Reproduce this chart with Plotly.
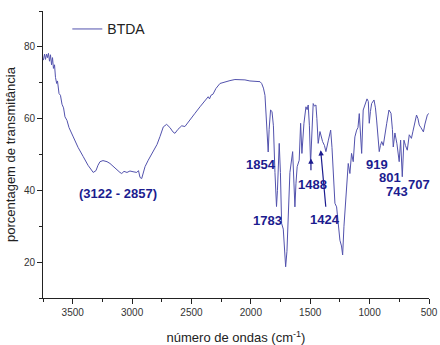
import plotly.graph_objects as go

wavenumber = [3747, 3737, 3729, 3720, 3712, 3704, 3695, 3687, 3678, 3670, 3662, 3653, 3645, 3635,
              3628, 3615, 3603, 3590, 3577, 3565, 3548, 3531, 3495, 3455, 3411, 3371, 3327, 3304,
              3287, 3270, 3245, 3211, 3186, 3152, 3119, 3102, 3087, 3068, 3043, 3018, 2992, 2961,
              2946, 2933, 2919, 2908, 2891, 2864, 2821, 2790, 2765, 2737, 2709, 2681, 2656, 2639,
              2614, 2582, 2555, 2513, 2470, 2428, 2386, 2359, 2348, 2336, 2319, 2294, 2260, 2218,
              2176, 2134, 2092, 2050, 2008, 1966, 1938, 1923, 1909, 1894, 1881, 1869, 1854, 1846,
              1834, 1822, 1810, 1797, 1784, 1776, 1761, 1751, 1741, 1727, 1717, 1707, 1696, 1683,
              1671, 1648, 1637, 1629, 1620, 1610, 1593, 1581, 1570, 1553, 1536, 1526, 1517, 1507,
              1497, 1486, 1475, 1465, 1452, 1444, 1433, 1418, 1410, 1396, 1380, 1368, 1347, 1328,
              1317, 1305, 1292, 1278, 1267, 1250, 1237, 1227, 1216, 1204, 1193, 1180, 1166, 1152,
              1138, 1124, 1109, 1098, 1087, 1077, 1067, 1054, 1031, 1022, 1011, 1003, 993, 983,
              963, 951, 941, 930, 919, 909, 898, 885, 871, 856, 837, 820, 808, 801,
              787, 770, 751, 739, 725, 711, 698, 683, 666, 648, 635, 619, 605, 593,
              582, 568, 547, 534, 514, 500]
transmittance = [76.3, 78.0, 76.5, 78.0, 77.0, 78.2, 76.0, 77.8, 75.0, 77.0, 74.0, 75.0, 71.5, 69.8,
                 70.5, 67.0, 66.5, 64.0, 63.0, 60.5, 59.5, 57.5, 54.9, 52.0, 49.4, 47.0, 45.0, 45.5,
                 47.0, 48.0, 48.3, 48.0, 47.5, 46.5, 45.3, 45.0, 44.7, 45.3, 45.0, 45.4, 45.2, 45.0,
                 45.5, 43.6, 43.3, 44.8, 46.6, 48.4, 51.2, 52.8, 55.0, 57.7, 58.4, 57.5, 56.3, 55.9,
                 57.0, 58.0, 57.8, 59.5, 61.5, 63.3, 65.0, 66.1, 65.5, 66.5, 66.8, 68.4, 69.8, 70.3,
                 70.6, 70.9, 70.9, 70.8, 70.5, 70.4, 70.2, 70.3, 69.8, 68.5, 66.5, 60.0, 50.7, 57.0,
                 62.4, 62.0, 58.0, 45.0, 35.5, 40.0, 53.1, 45.0, 30.8, 29.2, 23.0, 18.7, 23.0, 35.0,
                 45.0, 50.8, 42.0, 35.4, 42.0, 46.6, 48.4, 58.7, 50.3, 58.7, 63.3, 62.5, 63.8, 58.0,
                 47.5, 58.0, 64.2, 63.5, 63.8, 60.0, 53.1, 56.4, 55.3, 53.6, 52.5, 50.8, 54.0, 56.8,
                 52.0, 45.0, 36.4, 35.4, 32.0, 26.1, 24.5, 22.0, 30.0, 36.0, 40.0, 47.5, 44.7, 50.3,
                 48.0, 54.9, 56.8, 57.5, 61.4, 57.0, 50.3, 62.4, 65.2, 65.5, 64.8, 58.7, 62.0, 64.2,
                 65.2, 63.0, 59.6, 54.0, 50.8, 52.5, 53.6, 52.5, 56.0, 58.7, 62.4, 61.5, 57.0, 52.1,
                 56.0, 53.0, 48.0, 54.0, 43.8, 54.0, 52.5, 51.2, 55.5, 54.5, 56.5, 58.7, 61.0, 60.0,
                 58.2, 57.5, 56.3, 58.5, 61.0, 61.5]

peak_labels = ["(3122 - 2857)", "1854", "1783", "1488", "1424", "919", "801", "743", "707"]
label_x = [3119, 1917, 1856, 1477, 1376, 941, 825, 773, 586]
label_y = [39.0, 47.2, 31.7, 41.5, 32.0, 47.2, 43.6, 39.6, 41.5]

# arrows: (head_x, head_y, tail_x, tail_y)
arrow_head_x = [1494, 1412]
arrow_head_y = [48.9, 51.2]
arrow_tail_x = [1494, 1368]
arrow_tail_y = [45.2, 35.0]

LINE = "#5252ad"
LAB = "#1c1c8f"
FONT = "Liberation Sans, Arial, sans-serif"

fig = go.Figure()
fig.add_trace(go.Scatter(x=wavenumber, y=transmittance, mode="lines", name="BTDA",
                         line=dict(color=LINE, width=1)))

for t, x, y in zip(peak_labels, label_x, label_y):
    fig.add_annotation(x=x, y=y, text="<b>%s</b>" % t, showarrow=False,
                       font=dict(family=FONT, size=13, color=LAB))
for hx, hy, tx, ty in zip(arrow_head_x, arrow_head_y, arrow_tail_x, arrow_tail_y):
    fig.add_annotation(x=hx, y=hy, ax=tx, ay=ty, axref="x", ayref="y", text="",
                       showarrow=True, arrowhead=2, arrowsize=0.9, arrowwidth=1.2,
                       arrowcolor=LAB)

axis_common = dict(showline=True, linecolor="#222", linewidth=1, ticks="outside",
                   ticklen=5, tickcolor="#222", showgrid=False, zeroline=False,
                   tickfont=dict(family=FONT, size=10, color="#333"),
                   mirror=False, automargin=False, tickmode="linear", tick0=0)
fig.update_xaxes(range=[3750, 500], dtick=500,
                 minor=dict(ticks="outside", ticklen=3, dtick=250, tick0=0, tickcolor="#222",
                            showgrid=False),
                 title=dict(text="número de ondas (cm<sup>-1</sup>)", standoff=20,
                            font=dict(family=FONT, size=13, color="#222")),
                 **axis_common)
fig.update_yaxes(range=[10, 90], dtick=20,
                 minor=dict(ticks="outside", ticklen=3, dtick=10, tick0=0, tickcolor="#222",
                            showgrid=False),
                 title=dict(text="porcentagem de transmitância", standoff=5,
                            font=dict(family=FONT, size=13, color="#222")),
                 **axis_common)

fig.update_layout(width=440, height=345, margin=dict(l=43, r=11, t=11, b=47),
                  plot_bgcolor="white", paper_bgcolor="white",
                  showlegend=True,
                  legend=dict(x=0.063, y=0.936, xanchor="left", yanchor="middle",
                              bgcolor="rgba(0,0,0,0)", borderwidth=0,
                              font=dict(family=FONT, size=14, color="#222")))
fig.write_html("out.html")
